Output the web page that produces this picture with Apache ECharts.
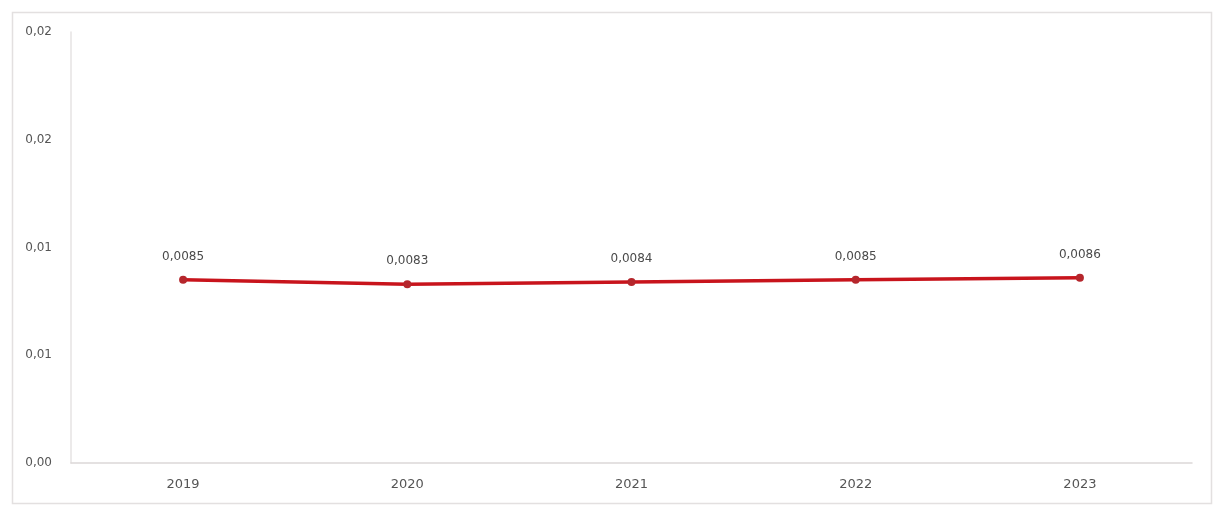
<!DOCTYPE html>
<html>
<head>
<meta charset="utf-8">
<script src="https://cdn.jsdelivr.net/npm/echarts@6/dist/echarts.min.js"></script>
<style>
    html, body { margin: 0; padding: 0; background: #fff; }
    #chart { width: 1216px; height: 506px; }
</style>
</head>
<body>
<div id="chart"></div>
<script>
var years = ['2019', '2020', '2021', '2022', '2023'];
var values = [0.0085, 0.0083, 0.0084, 0.0085, 0.0086];
var valueLabels = ['0,0085', '0,0083', '0,0084', '0,0085', '0,0086'];
var yTickLabels = ['0,00', '0,01', '0,01', '0,02', '0,02'];

var chart = echarts.init(document.getElementById('chart'));

var option = {
    backgroundColor: '#fff',
    animation: false,
    graphic: [{
        type: 'rect',
        shape: { x: 12.5, y: 12.5, width: 1199, height: 491 },
        style: { fill: 'none', stroke: '#e3e0e0', lineWidth: 1.5 }
    }],
    grid: {
        left: 71,
        right: 24,
        top: 32,
        bottom: 43
    },
    xAxis: {
        type: 'category',
        data: years,
        boundaryGap: true,
        axisLine: { lineStyle: { color: '#dcd8d8', width: 1.5 } },
        axisTick: { show: false },
        axisLabel: {
            color: '#555',
            fontSize: 13,
            fontFamily: 'DejaVu Sans',
            margin: 15
        }
    },
    yAxis: {
        type: 'value',
        min: 0,
        max: 0.02,
        interval: 0.005,
        axisLine: { show: true, lineStyle: { color: '#e6e3e3', width: 1.5 } },
        axisTick: { show: false },
        splitLine: { show: false },
        axisLabel: {
            color: '#555',
            fontSize: 12,
            fontFamily: 'DejaVu Sans',
            margin: 19,
            formatter: function (v) {
                var i = Math.round(v / 0.005);
                return yTickLabels[i] !== undefined ? yTickLabels[i] : '';
            }
        }
    },
    series: [{
        type: 'line',
        data: values,
        symbol: 'circle',
        symbolSize: 8,
        lineStyle: { color: '#c8141c', width: 3.5 },
        itemStyle: { color: '#b5262c' },
        label: {
            show: true,
            position: 'top',
            distance: 13,
            color: '#4a4a4a',
            fontSize: 12,
            fontFamily: 'DejaVu Sans',
            formatter: function (p) {
                return valueLabels[p.dataIndex];
            }
        }
    }]
};

chart.setOption(option);
</script>
</body>
</html>
